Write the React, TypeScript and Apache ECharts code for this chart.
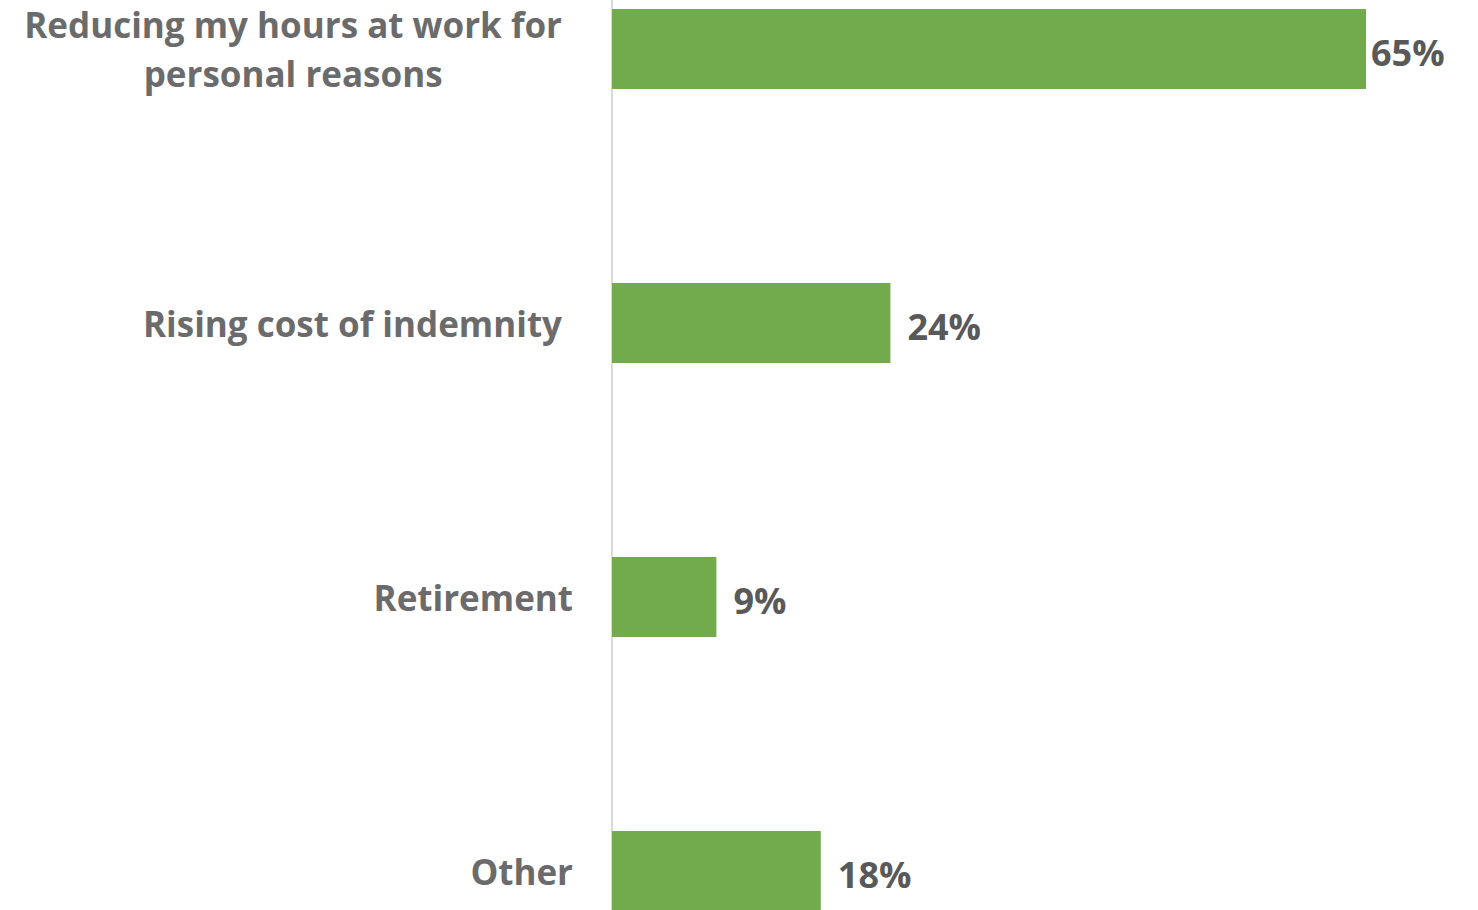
import React, { useEffect, useRef } from "react";
import * as echarts from "echarts";

const categories = [
  "Reducing my hours at work for\npersonal reasons",
  "Rising cost of indemnity",
  "Retirement",
  "Other",
];
const values = [65, 24, 9, 18];
const labelOffsets = [11, 11, 0, 0];
const valueLabelDistances = [5, 17, 17, 17];

export default function App() {
  const ref = useRef<HTMLDivElement>(null);
  useEffect(() => {
    if (!ref.current) return;
    const chart = echarts.init(ref.current, null, { renderer: "svg" });
    const font = {
      fontFamily: "Open Sans",
      fontWeight: "bold",
      fontSize: 35,
      color: "#6b6b6b",
      lineHeight: 49,
      align: "center",
    };
    chart.setOption({
      animation: false,
      backgroundColor: "#ffffff",
      grid: { left: 612, top: 0, width: 812, bottom: 0, containLabel: false },
      xAxis: {
        type: "value",
        min: 0,
        max: 70,
        show: false,
      },
      yAxis: {
        type: "category",
        inverse: true,
        data: categories,
        axisLine: { show: true, lineStyle: { color: "#d9d9d9", width: 2 } },
        axisTick: { show: false },
        splitLine: { show: false },
        axisLabel: {
          margin: 39,
          align: "right",
          formatter: (v: string, i: number) => {
            const lines = v.split("\n");
            const style = labelOffsets[i] ? "p" : "c";
            return lines.map((l) => `{${style}|${l}}`).join("\n");
          },
          rich: {
            c: { ...font },
            p: { ...font, padding: [0, 11, 0, 0] },
          },
        },
      },
      series: [
        {
          type: "bar",
          barWidth: 80,
          data: values.map((v, i) => ({
            value: v,
            label: { distance: valueLabelDistances[i] },
          })),
          itemStyle: { color: "#72aa4e" },
          label: {
            show: true,
            position: "right",
            formatter: "{c}%",
            fontFamily: "Open Sans",
            fontWeight: "bold",
            fontSize: 36,
            color: "#595959",
            offset: [0, 3],
          },
        },
      ],
    });
    return () => chart.dispose();
  }, []);
  return (
    <div
      style={{
        position: "absolute",
        left: 0,
        top: 0,
        width: 1478,
        height: 910,
        overflow: "hidden",
        background: "#ffffff",
      }}
    >
      <div
        ref={ref}
        style={{ position: "absolute", left: 0, top: -88, width: 1478, height: 1096 }}
      />
    </div>
  );
}
